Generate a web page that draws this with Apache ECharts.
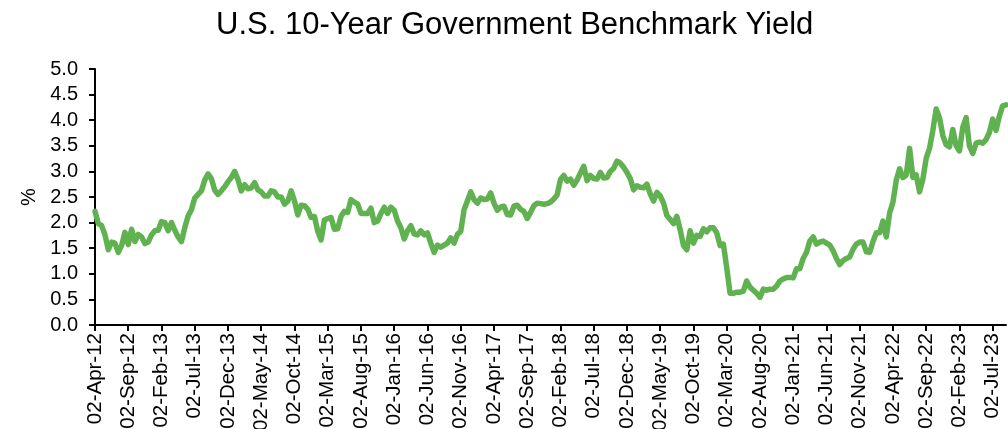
<!DOCTYPE html>
<html>
<head>
<meta charset="utf-8">
<script src="https://cdn.jsdelivr.net/npm/echarts@6/dist/echarts.min.js"></script>
<style>
html,body{margin:0;padding:0;background:#fff;}
#chart{width:1008px;height:429px;}
</style>
</head>
<body>
<div id="chart"></div>
<script>
// Semi-monthly readings (2nd and 16th of each month), % yield
var y2012 = [2.22,1.98, 1.94,1.76, 1.47,1.62, 1.60,1.42, 1.55,1.81, 1.57,1.87, 1.63,1.77, 1.72,1.59, 1.62,1.76];
var y2013 = [1.84,1.85, 2.02,2.00, 1.84,2.00, 1.85,1.72, 1.63,1.90, 2.13,2.25, 2.48,2.55, 2.62,2.83, 2.95,2.86, 2.63,2.55, 2.62,2.70, 2.80,2.88];
var y2014 = [3.00,2.84, 2.62,2.74, 2.66,2.68, 2.78,2.64, 2.60,2.52, 2.52,2.62, 2.60,2.50, 2.50,2.36, 2.42,2.62, 2.42,2.15, 2.34,2.33, 2.26,2.10];
var y2015 = [2.12,1.83, 1.66,2.05, 2.08,2.10, 1.87,1.88, 2.12,2.22, 2.20,2.45, 2.40,2.36, 2.18,2.18, 2.18,2.28, 2.00,2.03, 2.18,2.30, 2.18,2.30];
var y2016 = [2.24,2.03, 1.90,1.68, 1.84,1.94, 1.78,1.76, 1.84,1.76, 1.80,1.60, 1.42,1.56, 1.52,1.56, 1.60,1.70, 1.60,1.77, 1.83,2.25, 2.42,2.60];
var y2017 = [2.45,2.38, 2.48,2.45, 2.46,2.58, 2.38,2.24, 2.30,2.32, 2.16,2.15, 2.32,2.34, 2.26,2.22, 2.08,2.20, 2.33,2.38, 2.37,2.36, 2.37,2.40];
var y2018 = [2.46,2.54, 2.84,2.92, 2.81,2.85, 2.73,2.83, 2.97,3.10, 2.82,2.92, 2.86,2.85, 2.98,2.87, 2.88,3.00, 3.06,3.20, 3.16,3.08, 2.98,2.86];
var y2019 = [2.64,2.72, 2.69,2.68, 2.75,2.56, 2.42,2.59, 2.52,2.38, 2.14,2.06, 1.98,2.12, 1.86,1.55, 1.47,1.84, 1.60,1.75, 1.73,1.88, 1.82,1.90];
var y2020 = [1.90,1.80, 1.55,1.58, 1.12,0.62, 0.62,0.64, 0.64,0.66, 0.86,0.74, 0.68,0.62, 0.54,0.70, 0.68,0.70, 0.70,0.76, 0.86,0.90, 0.93,0.93];
var y2021 = [0.92,1.10, 1.10,1.30, 1.42,1.64, 1.72,1.58, 1.62,1.64, 1.60,1.56, 1.45,1.30, 1.18,1.26, 1.30,1.33, 1.48,1.58, 1.62,1.62, 1.43,1.42];
var y2022 = [1.63,1.80, 1.80,2.03, 1.72,2.19, 2.40,2.83, 3.05,2.88, 2.93,3.45, 2.88,2.93, 2.60,2.85, 3.26,3.45, 3.80,4.22, 4.05,3.70, 3.52,3.48];
var y2023 = [3.82,3.50, 3.40,3.86, 4.05,3.50, 3.35,3.55, 3.57,3.55, 3.62,3.76, 4.02,3.80, 4.08,4.28, 4.30];

var monthNames = ['Jan','Feb','Mar','Apr','May','Jun','Jul','Aug','Sep','Oct','Nov','Dec'];
var dayLabels = ['02','16'];
var yTicks = {min: 0, max: 5, step: 0.5};

var values = [].concat(y2012, y2013, y2014, y2015, y2016, y2017, y2018, y2019, y2020, y2021, y2022, y2023);
var categories = [];
var yr = 2012, mo = 3, half = 0;
for (var i = 0; i < values.length; i++) {
  categories.push(dayLabels[half] + '-' + monthNames[mo] + '-' + String(yr).slice(2));
  half++;
  if (half > 1) { half = 0; mo++; if (mo > 11) { mo = 0; yr++; } }
}

var FONT = 'Liberation Sans, Arial, sans-serif';
var chart = echarts.init(document.getElementById('chart'), null, {renderer: 'canvas'});
chart.setOption({
  animation: false,
  backgroundColor: '#ffffff',
  title: {
    text: 'U.S. 10-Year Government Benchmark Yield',
    left: 211, top: 5,
    textStyle: {fontFamily: FONT, fontSize: 31, fontWeight: 'normal', color: '#000'}
  },
  grid: {left: 95, right: 2, top: 69, bottom: 104, containLabel: false, outerBoundsMode: 'none'},
  xAxis: {
    type: 'category',
    data: categories,
    boundaryGap: false,
    axisLine: {lineStyle: {color: '#000', width: 2}},
    axisTick: {show: true, interval: 9, length: 6, lineStyle: {color: '#000', width: 2}},
    axisLabel: {interval: 9, rotate: 90, margin: 8, fontFamily: FONT, fontSize: 20.5, color: '#000', hideOverlap: false},
    splitLine: {show: false}
  },
  yAxis: {
    type: 'value',
    min: yTicks.min, max: yTicks.max, interval: yTicks.step,
    name: '%',
    nameLocation: 'middle',
    nameGap: 55,
    nameRotate: 90,
    nameTextStyle: {fontFamily: FONT, fontSize: 20, color: '#000'},
    axisLine: {show: true, lineStyle: {color: '#000', width: 2}},
    axisTick: {show: true, length: 6, lineStyle: {color: '#000', width: 2}},
    axisLabel: {margin: 17, fontFamily: FONT, fontSize: 20, color: '#000',
      formatter: function (v) { return v.toFixed(1); }},
    splitLine: {show: false}
  },
  series: [{
    type: 'line',
    data: values,
    showSymbol: false,
    symbol: 'none',
    lineStyle: {color: '#60b150', width: 5.5, join: 'round', cap: 'round'},
    smooth: false
  }]
});
</script>
</body>
</html>
